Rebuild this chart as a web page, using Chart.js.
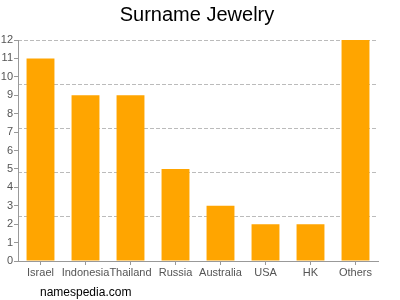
<!DOCTYPE html>
<html>
<head>
<meta charset="utf-8">
<script src="https://cdn.jsdelivr.net/npm/chart.js@4/dist/chart.umd.min.js"></script>
<style>
  html, body { margin: 0; padding: 0; background: #fff; }
  #wrap { position: relative; width: 400px; height: 300px; }
  #credit { position: absolute; left: 40px; top: 285px; font: 12px "Liberation Sans", Arial, sans-serif; color: #000; }
</style>
</head>
<body>
<div id="wrap">
  <canvas id="c" width="400" height="300"></canvas>
  <div id="credit">namespedia.com</div>
</div>
<script>
const categories = ["Israel", "Indonesia", "Thailand", "Russia", "Australia", "USA", "HK", "Others"];
const counts = [11, 9, 9, 5, 3, 2, 2, 12];
const gridLevels = [0, 2.4, 4.8, 7.2, 9.6, 12];
const titleText = "Surname Jewelry";

const FONT = "'Liberation Sans', Arial, sans-serif";

new Chart(document.getElementById('c'), {
  type: 'bar',
  data: {
    labels: categories,
    datasets: [{
      data: counts,
      backgroundColor: '#FFA500',
      borderWidth: 0,
      categoryPercentage: 1,
      barPercentage: 0.62
    }]
  },
  options: {
    responsive: false,
    animation: false,
    layout: { padding: { left: 0, right: 6, top: 0, bottom: 0 } },
    plugins: {
      legend: { display: false },
      tooltip: { enabled: false },
      title: {
        display: true,
        text: titleText,
        color: '#000',
        font: { family: FONT, size: 20, weight: 'normal', lineHeight: 1.2 },
        padding: { top: 3, bottom: 13 }
      }
    },
    scales: {
      x: {
        grid: { display: true, drawOnChartArea: false, drawTicks: true, tickLength: 4, offset: false, color: '#999' },
        border: { display: true, color: '#999' },
        ticks: { color: '#555', font: { family: FONT, size: 11 }, autoSkip: false, maxRotation: 0, padding: 1 },
        afterFit: s => { s.height = 39; }
      },
      y: {
        min: 0, max: 12,
        position: 'left',
        grid: { display: true, drawOnChartArea: false, drawTicks: true, tickLength: 4, color: '#999' },
        border: { display: true, color: '#999' },
        ticks: { stepSize: 1, color: '#555', font: { family: FONT, size: 11 }, padding: 1 },
        afterFit: s => { s.width = 18; }
      },
      yg: {
        min: 0, max: 12,
        position: 'right',
        afterBuildTicks: s => { s.ticks = gridLevels.map(v => ({ value: v })); },
        grid: { display: true, drawTicks: false, color: '#bbb', lineWidth: 1 },
        border: { display: false, dash: [4, 2] },
        ticks: { display: false },
        afterFit: s => { s.width = 16; }
      }
    }
  }
});
</script>
</body>
</html>
